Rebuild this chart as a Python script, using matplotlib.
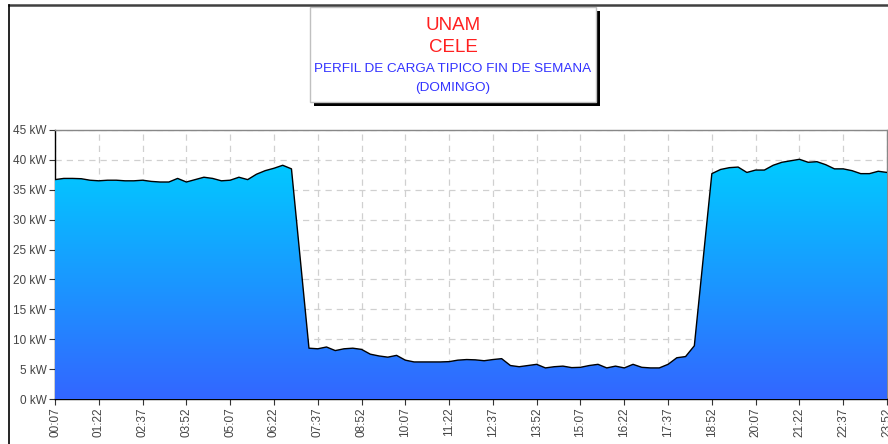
import numpy as np
import matplotlib.pyplot as plt
from matplotlib.colors import LinearSegmentedColormap
from matplotlib.patches import Rectangle
from matplotlib.lines import Line2D

plt.rcParams['font.family'] = ['Liberation Sans', 'DejaVu Sans']

# lecturas cada 15 minutos, desde 00:07 hasta 23:52 (kW)
load_kw = [
    36.7, 36.9, 36.9, 36.85, 36.6, 36.5, 36.6, 36.6, 36.5, 36.5,
    36.6, 36.4, 36.3, 36.3, 36.9, 36.3, 36.7, 37.1, 36.9, 36.5,
    36.6, 37.1, 36.7, 37.6, 38.2, 38.6, 39.1, 38.5, 23.5, 8.5,
    8.4, 8.7, 8.1, 8.4, 8.5, 8.3, 7.5, 7.2, 7.0, 7.3,
    6.5, 6.2, 6.2, 6.2, 6.2, 6.25, 6.5, 6.6, 6.55, 6.4,
    6.6, 6.75, 5.6, 5.4, 5.6, 5.8, 5.2, 5.4, 5.5, 5.25,
    5.3, 5.6, 5.8, 5.2, 5.5, 5.2, 5.8, 5.3, 5.2, 5.2,
    5.8, 6.9, 7.1, 8.9, 23.3, 37.7, 38.4, 38.7, 38.8, 37.9,
    38.3, 38.3, 39.1, 39.6, 39.85, 40.1, 39.6, 39.7, 39.2, 38.5,
    38.5, 38.2, 37.7, 37.7, 38.1, 37.9,
]
tick_labels = ["00:07", "01:22", "02:37", "03:52", "05:07", "06:22", "07:37",
               "08:52", "10:07", "11:22", "12:37", "13:52", "15:07", "16:22",
               "17:37", "18:52", "20:07", "21:22", "22:37", "23:52"]
y_ticks = [0, 5, 10, 15, 20, 25, 30, 35, 40, 45]

x = np.arange(len(load_kw))
tick_pos = np.arange(0, len(load_kw), 5)

fig = plt.figure(figsize=(8.88, 4.44), dpi=100)
ax = fig.add_axes([55 / 888, 1 - 399 / 444, 832 / 888, 269 / 444])

# relleno con degradado
cmap = LinearSegmentedColormap.from_list("grad", ["#3366ff", "#00ccff"])
poly = ax.fill_between(x, load_kw, 0, facecolor="none", edgecolor="none", zorder=3)
grad = np.linspace(0, 1, 256).reshape(-1, 1)
img = ax.imshow(grad, cmap=cmap, origin="lower", aspect="auto",
                extent=[x[0], x[-1], 0, 40.5], zorder=3)
img.set_clip_path(poly.get_paths()[0], transform=ax.transData)
ax.plot(x, load_kw, color="black", linewidth=1, zorder=4)

ax.set_xlim(x[0], x[-1])
ax.set_ylim(0, 45)
ax.set_xticks(tick_pos)
ax.set_xticklabels(tick_labels, rotation=90)
ax.set_yticks(y_ticks)
ax.set_yticklabels([f"{v} kW" for v in y_ticks])
ax.tick_params(axis="both", labelsize=8.5, labelcolor="#444444", length=4,
               width=0.8, color="#333333", direction="out", pad=2)
ax.grid(True, color="#d0d0d0", linestyle=(0, (5, 4)), linewidth=0.9, zorder=1)
ax.set_axisbelow(True)
for side in ["left", "bottom"]:
    ax.spines[side].set_color("black")
    ax.spines[side].set_linewidth(1)
for side in ["top", "right"]:
    ax.spines[side].set_color("#888888")
    ax.spines[side].set_linewidth(1)

# marco del grafico
fig.add_artist(Line2D([9 / 888, 1], [1 - 5 / 444, 1 - 5 / 444], color="#404040",
                      linewidth=1.8, transform=fig.transFigure))
fig.add_artist(Line2D([9 / 888, 9 / 888], [0, 1 - 5 / 444], color="black",
                      linewidth=1.2, transform=fig.transFigure))

# cuadro de titulo con sombra
fig.add_artist(Rectangle((314 / 888, 1 - 106 / 444), 286 / 888, 95 / 444,
                         facecolor="black", edgecolor="none",
                         transform=fig.transFigure))
fig.add_artist(Rectangle((310 / 888, 1 - 102 / 444), 286 / 888, 95 / 444,
                         facecolor="white", edgecolor="#c0c0c0", linewidth=1,
                         transform=fig.transFigure))
cx = 453 / 888
fig.text(cx, 1 - 25 / 444, "UNAM", color="#ff2020", fontsize=13.5,
         ha="center", va="center")
fig.text(cx, 1 - 47 / 444, "CELE", color="#ff2020", fontsize=13.5,
         ha="center", va="center")
fig.text(cx, 1 - 68.5 / 444, "PERFIL DE CARGA TIPICO FIN DE SEMANA",
         color="#3333ff", fontsize=9.7, ha="center", va="center")
fig.text(cx, 1 - 87.5 / 444, "(DOMINGO)", color="#3333ff", fontsize=9.7,
         ha="center", va="center")

fig.savefig("out.png", dpi=100)
